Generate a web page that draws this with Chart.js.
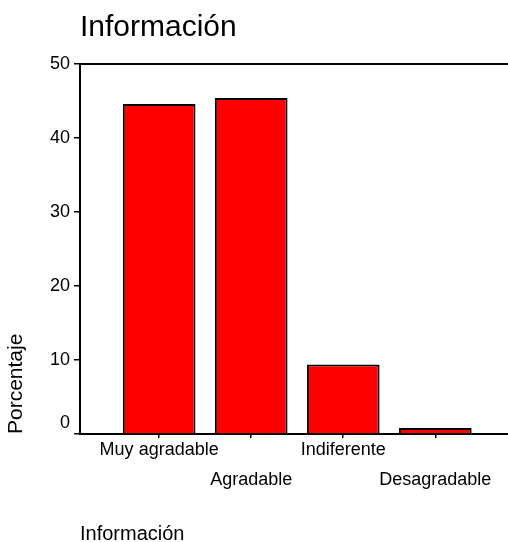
<!DOCTYPE html>
<html>
<head>
<meta charset="utf-8">
<script src="https://cdn.jsdelivr.net/npm/chart.js@4"></script>
<style>body { margin: 0; background: #fff; }</style>
</head>
<body>
<canvas id="chart" width="508" height="542"></canvas>
<script>
const categories = ['Muy agradable', 'Agradable', 'Indiferente', 'Desagradable'];
const percentages = [44.6, 45.4, 9.4, 0.8];
const yTicks = [0, 10, 20, 30, 40, 50];
const chartTitle = 'Información';
const xTitle = 'Información';
const yTitle = 'Porcentaje';

Chart.defaults.font.family = "'Liberation Sans', Arial, sans-serif";
Chart.defaults.color = '#000';

const ctx = document.getElementById('chart').getContext('2d');

new Chart(ctx, {
    type: 'bar',
    data: {
        datasets: [{
            data: percentages.map((v, i) => ({ x: i, y: v })),
            backgroundColor: '#ff0000',
            borderColor: '#000',
            borderWidth: 2,
            categoryPercentage: 1,
            barPercentage: 0.79
        }]
    },
    options: {
        responsive: false,
        devicePixelRatio: 1,
        animation: false,
        layout: { padding: 0 },
        plugins: {
            legend: { display: false },
            tooltip: { enabled: false },
            title: {
                display: true,
                text: chartTitle,
                align: 'start',
                fullSize: false,
                font: { size: 30, weight: 'normal' },
                padding: { top: 10, bottom: 18 }
            }
        },
        scales: {
            x: {
                type: 'linear',
                position: 'bottom',
                offset: false,
                min: -0.86,
                max: 3.79,
                afterBuildTicks: s => { s.ticks = categories.map((c, i) => ({ value: i })); },
                afterFit: s => { s.height = 108; },
                ticks: {
                    autoSkip: false,
                    maxRotation: 0,
                    minRotation: 0,
                    padding: 5,
                    font: { size: 18, lineHeight: '15px' },
                    // every second label goes on the lower row
                    callback: (v) => v % 2 ? ['', '', categories[v]] : categories[v]
                },
                grid: { offset: false, drawOnChartArea: false, tickLength: 4, color: '#000', lineWidth: 1.5 },
                border: { color: '#000', width: 2 },
                title: {
                    display: true,
                    text: xTitle,
                    align: 'start',
                    font: { size: 20, lineHeight: 0.8 },
                    padding: 0
                }
            },
            y: {
                min: 0,
                max: 50,
                afterBuildTicks: s => { s.ticks = yTicks.map(v => ({ value: v })); },
                afterFit: s => { s.width = 80; },
                ticks: {
                    padding: 4,
                    font: { size: 18 },
                    callback: v => v === 0 ? ['0', ''] : String(v)
                },
                grid: { drawOnChartArea: false, tickLength: 6, color: '#000', lineWidth: 1.5 },
                border: { color: '#000', width: 2 },
                title: {
                    display: true,
                    text: yTitle,
                    align: 'start',
                    font: { size: 21 },
                    padding: { top: 4, bottom: 0 }
                }
            },
            x2: {
                type: 'linear',
                position: 'top',
                afterFit: s => { s.height = 0; },
                grid: { display: false, drawTicks: false },
                ticks: { display: false },
                border: { color: '#000', width: 2 }
            }
        }
    }
});
</script>
</body>
</html>
